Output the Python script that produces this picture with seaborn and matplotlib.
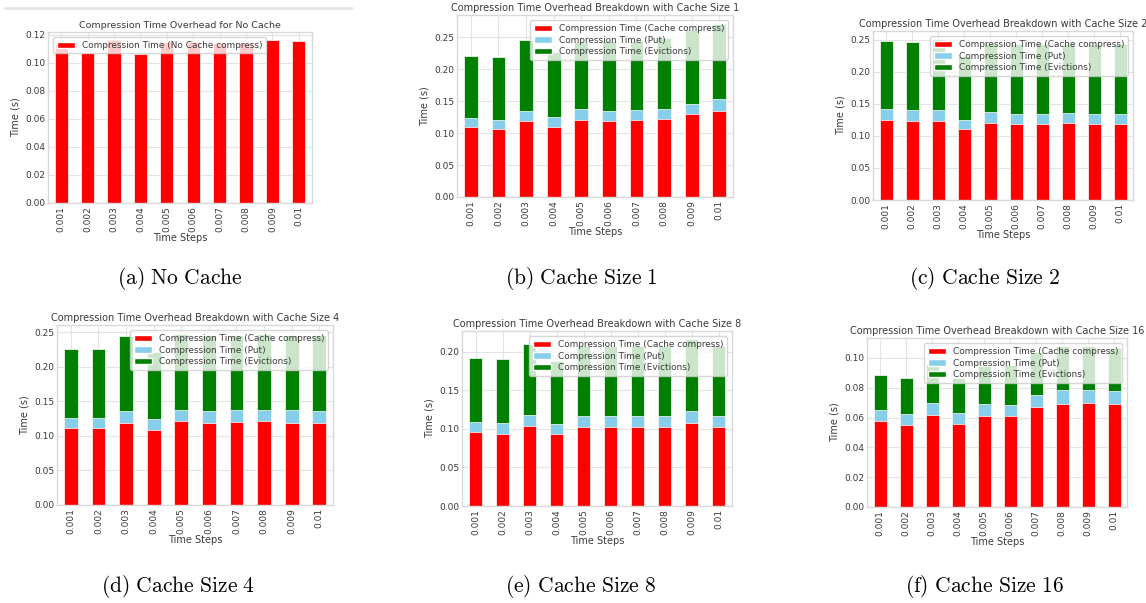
import matplotlib
matplotlib.use("Agg")
import matplotlib.pyplot as plt
from matplotlib.lines import Line2D
from matplotlib.patches import Patch
import numpy as np
import pandas as pd
import seaborn as sns

# Time-step categories shared by every panel
time_steps = ["0.001", "0.002", "0.003", "0.004", "0.005",
              "0.006", "0.007", "0.008", "0.009", "0.01"]

# No cache: compression time per step (s)
no_cache_compress = [0.113, 0.107, 0.116, 0.106, 0.115, 0.115, 0.114, 0.114, 0.116, 0.1155]

# Cache size 1
compress_1 = [0.110, 0.107, 0.119, 0.110, 0.120, 0.119, 0.120, 0.122, 0.130, 0.135]
put_1 = [0.014, 0.014, 0.016, 0.015, 0.017, 0.016, 0.016, 0.016, 0.016, 0.019]
evict_1 = [0.097, 0.098, 0.110, 0.101, 0.106, 0.109, 0.108, 0.110, 0.115, 0.117]

# Cache size 2
compress_2 = [0.124, 0.123, 0.123, 0.110, 0.120, 0.119, 0.118, 0.120, 0.118, 0.118]
put_2 = [0.018, 0.017, 0.017, 0.015, 0.017, 0.015, 0.016, 0.015, 0.016, 0.016]
evict_2 = [0.106, 0.107, 0.111, 0.099, 0.106, 0.110, 0.110, 0.109, 0.109, 0.109]

# Cache size 4
compress_4 = [0.111, 0.111, 0.119, 0.109, 0.122, 0.119, 0.120, 0.122, 0.119, 0.119]
put_4 = [0.015, 0.015, 0.017, 0.015, 0.016, 0.017, 0.018, 0.016, 0.018, 0.017]
evict_4 = [0.100, 0.100, 0.109, 0.098, 0.110, 0.110, 0.108, 0.110, 0.109, 0.110]

# Cache size 8
compress_8 = [0.096, 0.093, 0.104, 0.093, 0.103, 0.103, 0.102, 0.102, 0.108, 0.103]
put_8 = [0.0135, 0.0145, 0.0137, 0.013, 0.014, 0.014, 0.015, 0.015, 0.015, 0.014]
evict_8 = [0.0825, 0.0825, 0.0918, 0.082, 0.091, 0.091, 0.090, 0.090, 0.093, 0.091]

# Cache size 16
compress_16 = [0.058, 0.055, 0.062, 0.056, 0.061, 0.061, 0.067, 0.069, 0.070, 0.069]
put_16 = [0.0072, 0.0071, 0.0078, 0.0068, 0.0079, 0.0076, 0.008, 0.0096, 0.0088, 0.009]
evict_16 = [0.0233, 0.0244, 0.0259, 0.0237, 0.0255, 0.0264, 0.029, 0.0294, 0.0292, 0.0285]

cache_sizes = [1, 2, 4, 8, 16]
captions = ["(a) No Cache", "(b) Cache Size 1", "(c) Cache Size 2",
            "(d) Cache Size 4", "(e) Cache Size 8", "(f) Cache Size 16"]

sns.set_theme(style="whitegrid")
plt.rcParams["font.family"] = ["DejaVu Sans"]
plt.rcParams["mathtext.fontset"] = "cm"
plt.rcParams["axes.edgecolor"] = "#d9d9d9"
plt.rcParams["grid.color"] = "#e3e3e3"

TEXT = "#3a3a3a"
W, H = 1146, 603
fig = plt.figure(figsize=(W / 100, H / 100), dpi=100)


def frame(left, top, right, bottom):
    return [left / W, 1 - bottom / H, (right - left) / W, (bottom - top) / H]


boxes = [
    frame(48, 32, 312, 203),
    frame(457, 15, 733, 197),
    frame(873, 31, 1133, 200),
    frame(57, 325, 333, 505),
    frame(462, 331, 732, 506),
    frame(867, 338, 1127, 507),
]


def style_axes(ax, title, title_size=7):
    ax.set_title(title, fontsize=title_size, color=TEXT, pad=3)
    ax.set_xlabel("Time Steps", fontsize=7, color=TEXT, labelpad=1)
    ax.set_ylabel("Time (s)", fontsize=7, color=TEXT, labelpad=3)
    ax.tick_params(axis="both", labelsize=6.5, colors=TEXT, pad=2, length=0)
    ax.tick_params(axis="x", labelrotation=90)
    ax.grid(True, axis="both", linewidth=0.8)
    ax.set_axisbelow(True)
    for sp in ax.spines.values():
        sp.set_linewidth(1.0)
        sp.set_color("#d9d9d9")
    ax.set_xlim(-0.5, len(time_steps) - 0.5)


bar_kw = dict(width=0.5, edgecolor="white", linewidth=0.5, saturation=1)
legend_kw = dict(fontsize=6.4, framealpha=0.8, handlelength=2.0,
                 borderaxespad=0.6, labelcolor=TEXT)

# Panel (a): single series
ax = fig.add_axes(boxes[0])
df0 = pd.DataFrame({"step": time_steps, "t": no_cache_compress})
sns.barplot(data=df0, x="step", y="t", color="red", ax=ax, **bar_kw)
style_axes(ax, "Compression Time Overhead for No Cache", title_size=6.8)
ax.legend(handles=[Patch(facecolor="red", edgecolor="white")],
          labels=["Compression Time (No Cache compress)"],
          loc="upper left", **legend_kw)

# Panels (b)-(f): stacked breakdown
panels = [
    (compress_1, put_1, evict_1),
    (compress_2, put_2, evict_2),
    (compress_4, put_4, evict_4),
    (compress_8, put_8, evict_8),
    (compress_16, put_16, evict_16),
]
for i, (size, (comp, put, ev)) in enumerate(zip(cache_sizes, panels)):
    ax = fig.add_axes(boxes[i + 1])
    comp = np.array(comp)
    put = np.array(put)
    ev = np.array(ev)
    df = pd.DataFrame({"step": time_steps, "compress": comp,
                       "put": comp + put, "total": comp + put + ev})
    # stacked layers drawn back to front
    sns.barplot(data=df, x="step", y="total", color="green", ax=ax, **bar_kw)
    sns.barplot(data=df, x="step", y="put", color="skyblue", ax=ax, **bar_kw)
    sns.barplot(data=df, x="step", y="compress", color="red", ax=ax, **bar_kw)
    style_axes(ax, f"Compression Time Overhead Breakdown with Cache Size {size}")
    handles = [Patch(facecolor=c, edgecolor="white") for c in ("red", "skyblue", "green")]
    ax.legend(handles=handles,
              labels=["Compression Time (Cache compress)",
                      "Compression Time (Put)",
                      "Compression Time (Evictions)"],
              loc="upper right", labelspacing=0.3, **legend_kw)

# Sub-figure captions
cap_pos = [(180, 279), (581, 279), (985, 279), (178, 586), (581, 586), (985, 586)]
for (cx, cy), cap in zip(cap_pos, captions):
    txt = r"$\mathrm{" + cap.replace(" ", r"\ ") + "}$"
    fig.text(cx / W, 1 - cy / H, txt, ha="center", va="center", fontsize=15.5, color="black")

# thin rule above the first panel
fig.add_artist(Line2D([5 / W, 352 / W], [1 - 8 / H, 1 - 8 / H], color="#e6e6e6", linewidth=2))

fig.savefig("out.png", dpi=100, facecolor="white")
